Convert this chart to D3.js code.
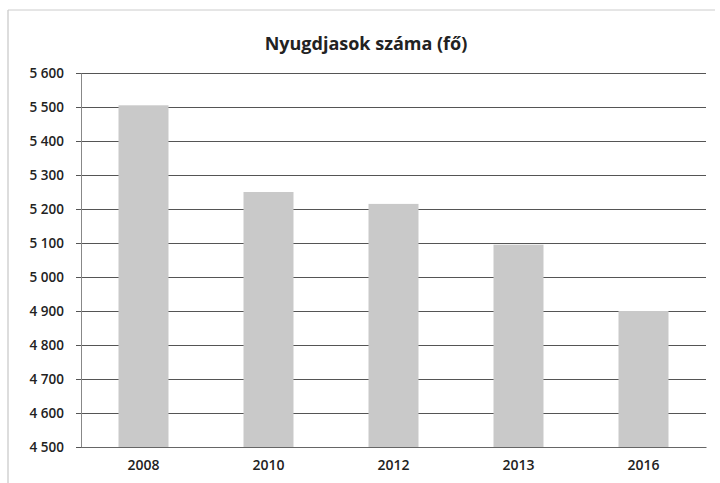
<!DOCTYPE html>
<html><head><meta charset="utf-8">
<script src="https://cdn.jsdelivr.net/npm/d3@7"></script>
<style>body{margin:0;background:#fff;} svg{display:block;}</style>
</head><body>
<script>
const categories = ["2008", "2010", "2012", "2013", "2016"];
const values = [5505, 5250, 5215, 5095, 4900];
const yTicks = [4500, 4600, 4700, 4800, 4900, 5000, 5100, 5200, 5300, 5400, 5500, 5600];
const title = "Nyugdjasok száma (fő)";

const W = 720, H = 483;
const m = {left: 81, right: 14, top: 73, bottom: 36};
const svg = d3.select("body").append("svg").attr("width", W).attr("height", H);

// chart frame
svg.append("line").attr("x1", 8).attr("x2", 8).attr("y1", 10).attr("y2", 483).attr("stroke", "#bbb");
svg.append("line").attr("x1", 8).attr("x2", 715).attr("y1", 10).attr("y2", 10).attr("stroke", "#ccc");

const x = d3.scaleBand().domain(categories).range([m.left, W - m.right]).paddingInner(0.6).paddingOuter(0.3);
const y = d3.scaleLinear().domain([4500, 5600]).range([H - m.bottom, m.top]);

const fmt = v => d3.format(",")(v).replace(/,/g, " ");

// gridlines
svg.append("g").selectAll("line").data(yTicks).join("line")
  .attr("x1", m.left - 5).attr("x2", W - m.right)
  .attr("y1", d => Math.round(y(d)) + 0.5).attr("y2", d => Math.round(y(d)) + 0.5)
  .attr("stroke", "#555").attr("stroke-width", 1);

// bars
svg.append("g").selectAll("rect").data(values).join("rect")
  .attr("x", (d, i) => x(categories[i]))
  .attr("width", x.bandwidth())
  .attr("y", d => y(d))
  .attr("height", d => y(4500) - y(d))
  .attr("fill", "#c9c9c9");

// y axis
const yAxis = d3.axisLeft(y).tickValues(yTicks).tickFormat(fmt).tickSize(0).tickPadding(17);
const gy = svg.append("g").attr("transform", `translate(${m.left},0)`).call(yAxis);
gy.select(".domain").attr("stroke", "#888");
gy.selectAll("text").attr("font-family", "Open Sans, sans-serif").attr("font-size", 13.5)
  .attr("font-weight", 600).attr("fill", "#222");

// x axis
const xAxis = d3.axisBottom(x).tickSize(0).tickPadding(13);
const gx = svg.append("g").attr("transform", `translate(0,${H - m.bottom})`).call(xAxis);
gx.select(".domain").attr("stroke", "#666");
gx.selectAll("text").attr("font-family", "Open Sans, sans-serif").attr("font-size", 14)
  .attr("font-weight", 600).attr("fill", "#222");

// title
svg.append("text").attr("x", 366).attr("y", 50).attr("text-anchor", "middle")
  .attr("font-family", "Open Sans, sans-serif").attr("font-weight", "bold").attr("font-size", 18)
  .attr("fill", "#222").text(title);
</script>
</body></html>
